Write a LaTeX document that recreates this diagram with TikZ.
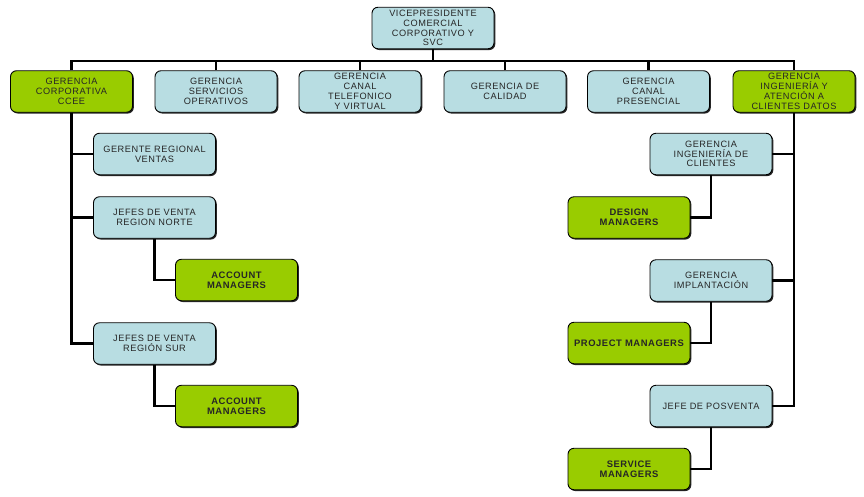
\documentclass[tikz,border=0pt]{standalone}
\usepackage{fontspec}
\setmainfont{Liberation Sans}[LetterSpace=6]
\usetikzlibrary{shadows}
\definecolor{boxblue}{HTML}{B8DDE2}
\definecolor{boxgreen}{HTML}{99CC00}
\begin{document}
\begin{tikzpicture}[x=1pt,y=-1pt,
  base/.style={draw=black, line width=0.9pt, rounded corners=6pt, align=center,
    inner sep=1pt, text=black!85, font=\fontsize{9.2}{9.8}\selectfont,
    drop shadow={shadow xshift=1.3pt, shadow yshift=-1.3pt, fill=black!85, opacity=1}},
  bluebox/.style={base, fill=boxblue},
  greenbox/.style={base, fill=boxgreen},
  boldbox/.style={greenbox, font=\fontsize{9.4}{10}\selectfont\bfseries},
  wide/.style={minimum width=122pt, minimum height=41.5pt},
  conn/.style={line width=2.8pt, line cap=butt},
  thinconn/.style={line width=2.2pt, line cap=butt}]
\useasboundingbox (0,0) rectangle (864,496);
\fill[white] (0,0) rectangle (864,496);

% top
\node[bluebox, wide] (vp) at (433,28) {VICEPRESIDENTE\\COMERCIAL\\CORPORATIVO Y\\SVC};

% level 1
\node[greenbox, wide] (b1) at (71.5,91.5) {GERENCIA\\CORPORATIVA\\CCEE};
\node[bluebox, wide] (b2) at (216,91.5) {GERENCIA\\SERVICIOS\\OPERATIVOS};
\node[bluebox, wide] (b3) at (360,91.5) {GERENCIA\\CANAL\\TELEFONICO\\Y VIRTUAL};
\node[bluebox, wide] (b4) at (505,91.5) {GERENCIA DE\\CALIDAD};
\node[bluebox, wide] (b5) at (648.5,91.5) {GERENCIA\\CANAL\\PRESENCIAL};
\node[greenbox, wide] (b6) at (794,91.5) {GERENCIA\\INGENIERÍA Y\\ATENCIÓN A\\CLIENTES DATOS};

% left branch
\node[bluebox, wide] (grv) at (154.5,154) {GERENTE REGIONAL\\VENTAS};
\node[bluebox, wide] (jn) at (154.5,217.5) {JEFES DE VENTA\\REGION NORTE};
\node[boldbox, wide] (am1) at (236.5,280) {ACCOUNT\\MANAGERS};
\node[bluebox, wide] (js) at (154.5,343.5) {JEFES DE VENTA\\REGIÓN SUR};
\node[boldbox, wide] (am2) at (236.5,406) {ACCOUNT\\MANAGERS};

% right branch
\node[bluebox, wide] (gic) at (711,154) {GERENCIA\\INGENIERÍA DE\\CLIENTES};
\node[boldbox, wide] (dm) at (629,217.5) {DESIGN\\MANAGERS};
\node[bluebox, wide] (gimp) at (711,280.5) {GERENCIA\\IMPLANTACIÓN};
\node[boldbox, wide] (pm) at (629,343) {PROJECT MANAGERS};
\node[bluebox, wide] (jpv) at (711,406) {JEFE DE POSVENTA};
\node[boldbox, wide] (sm) at (629,469) {SERVICE\\MANAGERS};

% bus
\coordinate (bus) at (0,61);
\draw[conn] (vp.south) -- (vp.south |- bus);
\draw[conn] (b1.north) -- (b1.north |- bus) -| (b6.north);
\draw[conn] (b2.north) -- (b2.north |- bus);
\draw[conn] (b3.north) -- (b3.north |- bus);
\draw[conn] (b4.north) -- (b4.north |- bus);
\draw[conn] (b5.north) -- (b5.north |- bus);

% left spine
\draw[conn] (b1.south) |- (js.west);
\draw[conn] (b1.south |- grv.west) -- (grv.west);
\draw[conn] (b1.south |- jn.west) -- (jn.west);
\draw[conn] (jn.south) |- (am1.west);
\draw[conn] (js.south) |- (am2.west);

% right spine
\draw[conn] (b6.south) |- (jpv.east);
\draw[conn] (b6.south |- gic.east) -- (gic.east);
\draw[conn] (b6.south |- gimp.east) -- (gimp.east);
\draw[thinconn] (gic.south) |- (dm.east);
\draw[thinconn] (gimp.south) |- (pm.east);
\draw[thinconn] (jpv.south) |- (sm.east);
\end{tikzpicture}
\end{document}
